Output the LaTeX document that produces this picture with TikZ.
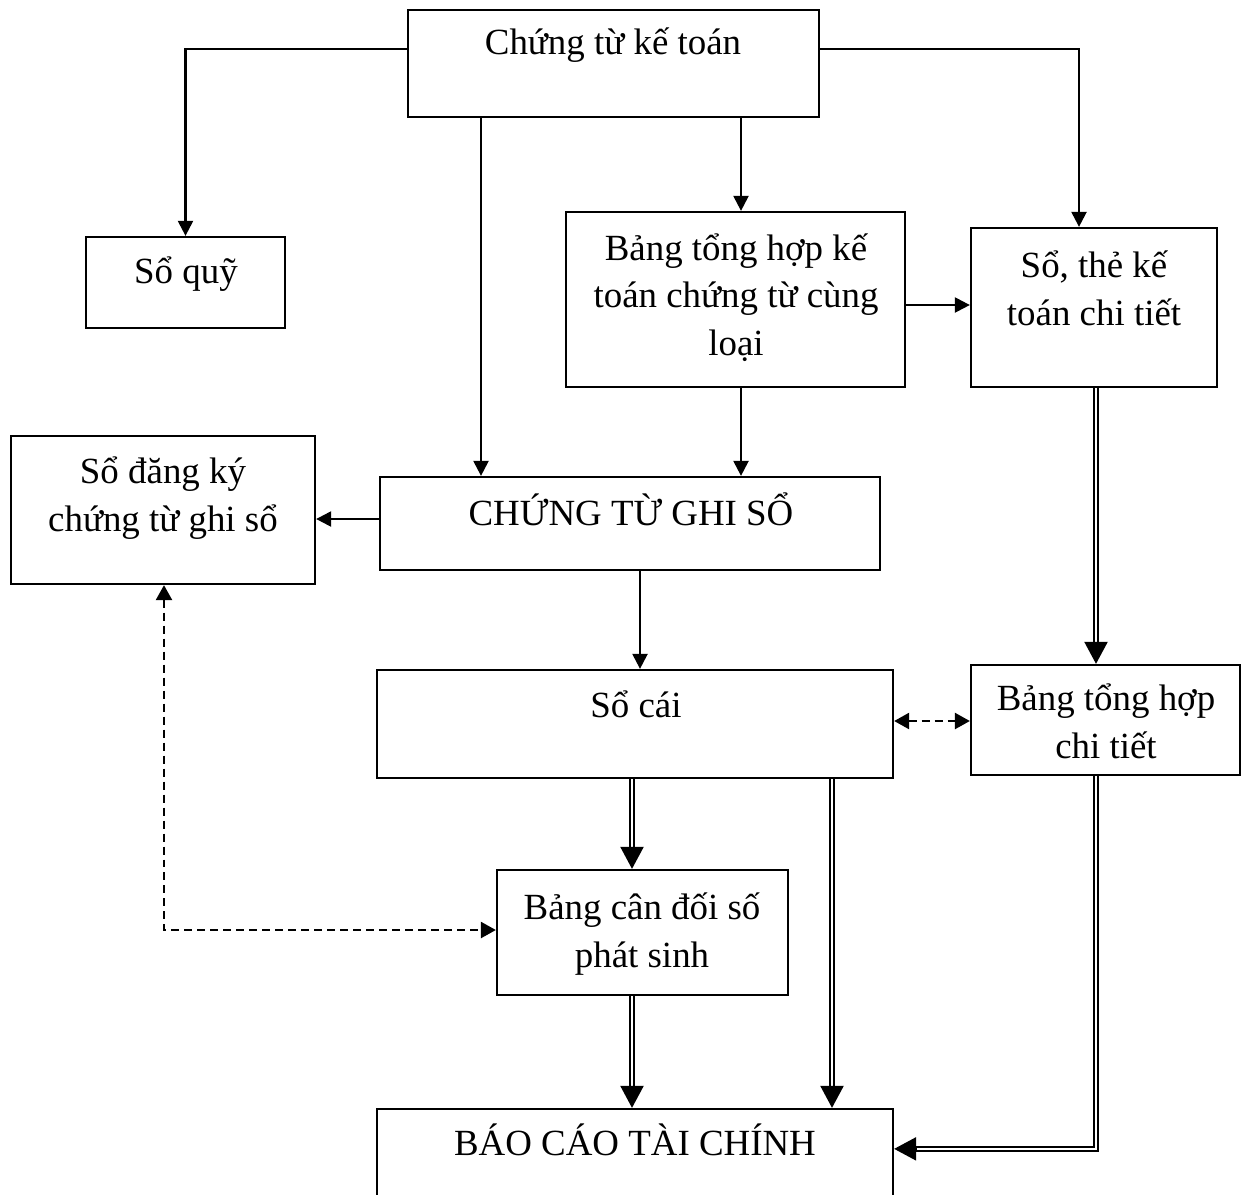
\documentclass[tikz,border=0pt]{standalone}
\usepackage{fontspec}
\setmainfont{Liberation Serif}
\usetikzlibrary{arrows.meta,calc,fit}

\begin{document}
\begin{tikzpicture}[x=0.02cm,y=-0.02cm,
  box/.style={draw, line width=1.3pt, inner sep=0pt},
  txt/.style={font=\fontsize{21pt}{27pt}\selectfont, align=center, inner sep=0pt, anchor=base},
  arr/.style={line width=1.3pt, -{Triangle[length=0.3cm,width=0.3cm]}},
  darr/.style={line width=1.4pt, dash pattern=on 0.16cm off 0.1cm,
    {Triangle[length=0.3cm,width=0.32cm]}-{Triangle[length=0.3cm,width=0.32cm]}},
  dbl/.style={line width=1.2pt, double, double distance=1.4pt},
  bighead/.style={line width=1.2pt, -{Triangle[length=0.44cm,width=0.46cm]}}
]
\fill[white] (0,0) rectangle (1246,1194);
\path[use as bounding box] (0,0) rectangle (1246,1194);

% boxes
\node[box, fit={(408,10) (819,117)}] (ctkt) {};
\node[box, fit={(86,237) (285,328)}] (soquy) {};
\node[box, fit={(566,212) (905,387)}] (bth) {};
\node[box, fit={(971,228) (1217,387)}] (sothe) {};
\node[box, fit={(11,436) (315,584)}] (sodk) {};
\node[box, fit={(380,477) (880,570)}] (ctgs) {};
\node[box, fit={(377,670) (893,778)}] (socai) {};
\node[box, fit={(971,665) (1240,775)}] (bthct) {};
\node[box, fit={(497,870) (788,995)}] (bcd) {};
\node[box, fit={(377,1109) (893,1240)}] (bctc) {};

% labels (multi-line labels sit on the baseline of their last line)
\node[txt] (l-ctkt) at (613,54) {Chứng từ kế toán};
\node[txt] (l-soquy) at (186,283) {Sổ quỹ};
\node[txt] (l-bth) at (736,355) {Bảng tổng hợp kế\\toán chứng từ cùng\\loại};
\node[txt] (l-sothe) at (1094,325) {Sổ, thẻ kế\\toán chi tiết};
\node[txt] (l-sodk) at (163,531) {Sổ đăng ký\\chứng từ ghi sổ};
\node[txt] (l-ctgs) at (631,525) {CHỨNG TỪ GHI SỔ};
\node[txt] (l-socai) at (636,717) {Sổ cái};
\node[txt] (l-bthct) at (1106,758) {Bảng tổng hợp\\chi tiết};
\node[txt] (l-bcd) at (642,967) {Bảng cân đối số\\phát sinh};
\node[txt] (l-bctc) at (635,1155) {BÁO CÁO TÀI CHÍNH};

% single connectors
\draw[arr] ($(ctkt.north west)+(0,40)$) -| (soquy.north);
\draw[arr] ($(ctkt.north east)+(0,40)$) -| (sothe.north -| 1079,0);
\draw[arr] (ctkt.south -| 481,0) -- (ctgs.north -| 481,0);
\draw[arr] (ctkt.south -| 741,0) -- (bth.north -| 741,0);
\draw[arr] (bth.south -| 741,0) -- (ctgs.north -| 741,0);
\draw[arr] (bth.east |- 0,305) -- (sothe.west |- 0,305);
\draw[arr] (ctgs.west |- 0,519) -- (sodk.east |- 0,519);
\draw[arr] (ctgs.south -| 640,0) -- (socai.north -| 640,0);

% dashed connectors
\draw[darr] (socai.east |- 0,721) -- (bthct.west |- 0,721);
\draw[darr] (sodk.south -| 164,0) |- (bcd.west |- 0,930);

% double connectors
\draw[dbl] (sothe.south -| 1096,0) -- ($(bthct.north -| 1096,0)+(0,-20)$);
\draw[bighead] ($(bthct.north -| 1096,0)+(0,-22)$) -- (bthct.north -| 1096,0);

\draw[dbl] (socai.south -| 632,0) -- ($(bcd.north -| 632,0)+(0,-20)$);
\draw[bighead] ($(bcd.north -| 632,0)+(0,-22)$) -- (bcd.north -| 632,0);

\draw[dbl] (socai.south -| 832,0) -- ($(bctc.north -| 832,0)+(0,-20)$);
\draw[bighead] ($(bctc.north -| 832,0)+(0,-22)$) -- (bctc.north -| 832,0);

\draw[dbl] (bcd.south -| 632,0) -- ($(bctc.north -| 632,0)+(0,-20)$);
\draw[bighead] ($(bctc.north -| 632,0)+(0,-22)$) -- (bctc.north -| 632,0);

\draw[dbl] (bthct.south -| 1096,0) |- ($(bctc.north east)+(20,41)$);
\draw[bighead] ($(bctc.north east)+(22,41)$) -- ($(bctc.north east)+(0,41)$);
\end{tikzpicture}
\end{document}
